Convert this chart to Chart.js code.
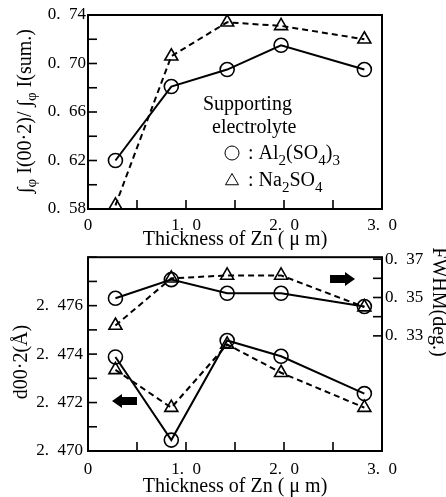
<!DOCTYPE html>
<html>
<head>
<meta charset="utf-8">
<script src="https://cdn.jsdelivr.net/npm/chart.js@4.4.1/dist/chart.umd.min.js"></script>
<style>
html, body { margin: 0; padding: 0; background: #fff; }
#wrap { position: relative; width: 446px; height: 497px; }
#c1 { position: absolute; left: 0; top: 0; }
#c2 { position: absolute; left: 0; top: 242px; }
</style>
</head>
<body>
<div id="wrap">
  <canvas id="c1" width="446" height="250"></canvas>
  <canvas id="c2" width="446" height="255"></canvas>
</div>
<script>
// thickness of Zn (um), same for every series
var thickness = [0.28, 0.85, 1.42, 1.97, 2.82];

// top panel: integrated intensity ratio
var ratioAl = [0.620, 0.681, 0.695, 0.715, 0.695];
var ratioNa = [0.583, 0.706, 0.734, 0.731, 0.720];

// bottom panel: d00.2 (left axis) and FWHM (right axis)
var dAl = [2.47388, 2.47045, 2.47456, 2.47391, 2.47237];
var dNa = [2.47335, 2.47179, 2.47440, 2.47323, 2.47179];
var fwhmAl = [0.3496, 0.3593, 0.3522, 0.3522, 0.3453];
var fwhmNa = [0.3354, 0.3600, 0.3615, 0.3615, 0.3450];

// ticks
var xTicks = [0, 0.5, 1.0, 1.5, 2.0, 2.5, 3.0];
var xLabels = [0, 1.0, 2.0, 3.0];
var ratioTicks = [0.58, 0.60, 0.62, 0.64, 0.66, 0.68, 0.70, 0.72, 0.74];
var ratioLabels = [0.58, 0.62, 0.66, 0.70, 0.74];
var dTicks = [2.470, 2.471, 2.472, 2.473, 2.474, 2.475, 2.476, 2.477, 2.478];
var dLabels = [2.470, 2.472, 2.474, 2.476];
var fwhmTicks = [0.33, 0.34, 0.35, 0.36, 0.37];
var fwhmLabels = [0.33, 0.35, 0.37];

var FONT = "'Liberation Serif', 'DejaVu Serif', serif";

function has(list, v) {
  for (var i = 0; i < list.length; i++) if (Math.abs(list[i] - v) < 1e-7) return true;
  return false;
}
function fmt(v, digits) {
  if (v === 0) return '0';
  return v.toFixed(digits).replace('.', '.\u2002');
}
function pts(xs, ys) {
  return xs.map(function (x, i) { return { x: x, y: ys[i] }; });
}
function setTicks(list) {
  return function (scale) { scale.ticks = list.map(function (v) { return { value: v }; }); };
}

// text with subscripts: parts = [[text, isSub], ...]
function richWidth(ctx, parts, size) {
  var w = 0;
  parts.forEach(function (p) {
    ctx.font = (p[1] ? Math.round(size * 0.75) : size) + 'px ' + FONT;
    w += ctx.measureText(p[0]).width;
  });
  return w;
}
function drawRich(ctx, parts, x, y, size) {
  var cx = x;
  parts.forEach(function (p) {
    ctx.font = (p[1] ? Math.round(size * 0.75) : size) + 'px ' + FONT;
    ctx.fillText(p[0], cx, y + (p[1] ? size * 0.32 : 0));
    cx += ctx.measureText(p[0]).width;
  });
}
function drawRotated(ctx, parts, cx, cy, size, angle) {
  ctx.save();
  ctx.translate(cx, cy);
  ctx.rotate(angle);
  ctx.textBaseline = 'middle';
  ctx.textAlign = 'left';
  drawRich(ctx, parts, -richWidth(ctx, parts, size) / 2, 0, size);
  ctx.restore();
}

// frame box + inward tick marks
var framePlugin = {
  id: 'frame',
  afterDraw: function (chart) {
    var ctx = chart.ctx, a = chart.chartArea, len = 9;
    ctx.save();
    ctx.strokeStyle = '#000';
    ctx.lineWidth = 2;
    ctx.strokeRect(a.left, a.top, a.right - a.left, a.bottom - a.top);
    ctx.lineWidth = 1.6;
    Object.keys(chart.scales).forEach(function (id) {
      var s = chart.scales[id];
      s.ticks.forEach(function (t) {
        var p = s.getPixelForValue(t.value);
        ctx.beginPath();
        if (s.axis === 'x') { ctx.moveTo(p, a.bottom); ctx.lineTo(p, a.bottom - len); }
        else if (s.position === 'left') { ctx.moveTo(a.left, p); ctx.lineTo(a.left + len, p); }
        else { ctx.moveTo(a.right, p); ctx.lineTo(a.right - len, p); }
        ctx.stroke();
      });
    });
    ctx.restore();
  }
};

function marker(ctx, style, x, y, r) {
  ctx.save();
  ctx.strokeStyle = '#000';
  ctx.fillStyle = 'rgba(0,0,0,0)';
  Chart.helpers.drawPoint(ctx, { pointStyle: style, radius: r, borderWidth: 1.6, rotation: 0 }, x, y);
  ctx.restore();
}

var topTexts = {
  id: 'topTexts',
  afterDraw: function (chart) {
    var ctx = chart.ctx;
    ctx.save();
    ctx.fillStyle = '#000';
    drawRotated(ctx, [['\u222B', 0], ['\u03C6', 1], [' I(00\u00B72)/ \u222B', 0], ['\u03C6', 1], [' I(sum.)', 0]],
      26, 111, 20, -Math.PI / 2);
    ctx.textBaseline = 'alphabetic';
    ctx.textAlign = 'left';
    ctx.font = '20px ' + FONT;
    ctx.fillText('Supporting', 203, 110);
    ctx.fillText('electrolyte', 212, 133);
    marker(ctx, 'circle', 232, 153, 7);
    drawRich(ctx, [[': Al', 0], ['2', 1], ['(SO', 0], ['4', 1], [')', 0], ['3', 1]], 248, 159, 20);
    marker(ctx, 'triangle', 232, 181, 7.5);
    drawRich(ctx, [[': Na', 0], ['2', 1], ['SO', 0], ['4', 1]], 248, 186, 20);
    ctx.restore();
  }
};

function arrow(ctx, tipX, y, dir) {
  // dir -1 points left, +1 points right
  var head = 10, shaft = 15, hh = 7, sh = 4;
  var b = tipX - dir * head, e = b - dir * shaft;
  ctx.beginPath();
  ctx.moveTo(tipX, y);
  ctx.lineTo(b, y - hh);
  ctx.lineTo(b, y - sh);
  ctx.lineTo(e, y - sh);
  ctx.lineTo(e, y + sh);
  ctx.lineTo(b, y + sh);
  ctx.lineTo(b, y + hh);
  ctx.closePath();
  ctx.fill();
}

var bottomTexts = {
  id: 'bottomTexts',
  afterDraw: function (chart) {
    var ctx = chart.ctx;
    ctx.save();
    ctx.fillStyle = '#000';
    drawRotated(ctx, [['d00\u00B72(\u00C5)', 0]], 22, 120, 20, -Math.PI / 2);
    drawRotated(ctx, [['FWHM(deg.)', 0]], 438, 60, 20, Math.PI / 2);
    arrow(ctx, 112, 159, -1);
    arrow(ctx, 355, 37, 1);
    ctx.restore();
  }
};

function series(xs, ys, style, dashed, axis) {
  var ds = {
    data: pts(xs, ys),
    showLine: true,
    borderColor: '#000',
    borderWidth: 2,
    borderDash: dashed ? [6, 4] : [],
    pointStyle: style,
    pointRadius: style === 'triangle' ? 7.5 : 7,
    pointBorderWidth: 1.6,
    pointBorderColor: '#000',
    pointBackgroundColor: 'rgba(0,0,0,0)'
  };
  if (axis) ds.yAxisID = axis;
  return ds;
}

var tickFont = { family: FONT, size: 17 };
var titleFont = { family: FONT, size: 20, lineHeight: 1.0 };
var noGrid = { display: false, drawTicks: false };

function xScale(height, pad) {
  return {
    type: 'linear', min: 0, max: 3.0,
    afterBuildTicks: setTicks(xTicks),
    afterFit: function (s) { s.height = height; },
    grid: noGrid,
    border: { display: false },
    ticks: {
      color: '#000', font: tickFont, padding: pad, maxRotation: 0, autoSkip: false,
      callback: function (v) { return has(xLabels, v) ? fmt(v, 1) : ''; }
    },
    title: { display: true, text: 'Thickness of Zn ( \u03BC m)', color: '#000', font: titleFont, padding: { top: 0, bottom: 0.5 } }
  };
}

var common = {
  responsive: false,
  animation: false,
  events: [],
  plugins: { legend: { display: false }, tooltip: { enabled: false } }
};

new Chart(document.getElementById('c1'), {
  type: 'scatter',
  data: {
    datasets: [
      series(thickness, ratioAl, 'circle', false),
      series(thickness, ratioNa, 'triangle', true)
    ]
  },
  options: Object.assign({}, common, {
    layout: { autoPadding: false, padding: { left: 0, top: 15, right: 64, bottom: 0 } },
    scales: {
      x: xScale(41, 6),
      y: {
        type: 'linear', min: 0.58, max: 0.74, position: 'left',
        afterBuildTicks: setTicks(ratioTicks),
        afterFit: function (s) { s.width = 88; },
        grid: noGrid,
        border: { display: false },
        ticks: {
          color: '#000', font: tickFont, padding: 2, autoSkip: false,
          callback: function (v) { return has(ratioLabels, v) ? fmt(v, 2) : ''; }
        }
      }
    }
  }),
  plugins: [framePlugin, topTexts]
});

new Chart(document.getElementById('c2'), {
  type: 'scatter',
  data: {
    datasets: [
      series(thickness, dAl, 'circle', false, 'y'),
      series(thickness, dNa, 'triangle', true, 'y'),
      series(thickness, fwhmAl, 'circle', false, 'y2'),
      series(thickness, fwhmNa, 'triangle', true, 'y2')
    ]
  },
  options: Object.assign({}, common, {
    layout: { autoPadding: false, padding: { left: 0, top: 15, right: 0, bottom: 0 } },
    scales: {
      x: xScale(46, 8),
      y: {
        type: 'linear', min: 2.470, max: 2.478, position: 'left',
        afterBuildTicks: setTicks(dTicks),
        afterFit: function (s) { s.width = 88; },
        grid: noGrid,
        border: { display: false },
        ticks: {
          color: '#000', font: tickFont, padding: 5, autoSkip: false,
          callback: function (v) { return has(dLabels, v) ? fmt(v, 3) : ''; }
        }
      },
      y2: {
        type: 'linear', min: 0.27, max: 0.371, position: 'right',
        afterBuildTicks: setTicks(fwhmTicks),
        afterFit: function (s) { s.width = 64; },
        grid: noGrid,
        border: { display: false },
        ticks: {
          color: '#000', font: tickFont, padding: 3, autoSkip: false,
          callback: function (v) { return has(fwhmLabels, v) ? fmt(v, 2) : ''; }
        }
      }
    }
  }),
  plugins: [framePlugin, bottomTexts]
});
</script>
</body>
</html>
